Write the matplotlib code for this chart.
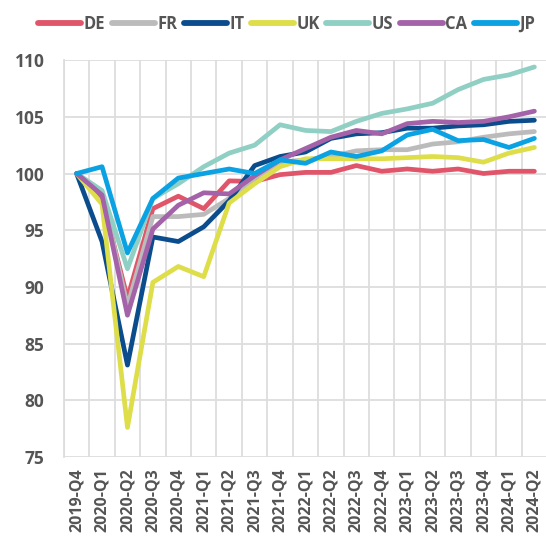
import matplotlib
matplotlib.use("Agg")
import matplotlib.pyplot as plt
from matplotlib.ticker import FixedLocator

quarters = ["2019-Q4", "2020-Q1", "2020-Q2", "2020-Q3", "2020-Q4", "2021-Q1", "2021-Q2",
            "2021-Q3", "2021-Q4", "2022-Q1", "2022-Q2", "2022-Q3", "2022-Q4", "2023-Q1",
            "2023-Q2", "2023-Q3", "2023-Q4", "2024-Q1", "2024-Q2"]

DE = [100, 97.8, 89.0, 96.9, 98.0, 96.9, 99.35, 99.3, 99.9, 100.1, 100.1, 100.7, 100.2, 100.4, 100.2, 100.4, 100.0, 100.2, 100.2]
FR = [100, 98.3, 88.3, 96.2, 96.2, 96.4, 97.8, 99.6, 101.0, 101.2, 101.5, 102.0, 102.1, 102.1, 102.6, 102.8, 103.2, 103.5, 103.7]
IT = [100, 94.0, 83.1, 94.4, 94.0, 95.3, 97.6, 100.7, 101.5, 101.9, 103.1, 103.5, 103.6, 104.0, 104.0, 104.2, 104.3, 104.6, 104.7]
UK = [100, 97.3, 77.6, 90.4, 91.8, 90.9, 97.4, 99.1, 100.6, 101.3, 101.3, 101.3, 101.3, 101.4, 101.5, 101.4, 101.0, 101.8, 102.3]
US = [100, 98.5, 91.6, 97.8, 99.1, 100.6, 101.8, 102.5, 104.3, 103.8, 103.7, 104.6, 105.3, 105.7, 106.2, 107.4, 108.3, 108.7, 109.4]
CA = [100, 98.1, 87.5, 95.1, 97.2, 98.3, 98.2, 99.8, 101.2, 102.2, 103.2, 103.8, 103.5, 104.4, 104.6, 104.5, 104.6, 105.0, 105.5]
JP = [100, 100.6, 93.0, 97.8, 99.6, 100.0, 100.4, 100.0, 101.2, 100.9, 101.9, 101.5, 102.0, 103.4, 103.9, 102.9, 103.0, 102.3, 103.1]

series = ["DE", "FR", "IT", "UK", "US", "CA", "JP"]
values = [DE, FR, IT, UK, US, CA, JP]
colors = ["#E05569", "#BBBBBB", "#0B4C8C", "#DEDE4A", "#8FCFC4", "#A462A9", "#0AA2E3"]

fig = plt.figure(figsize=(5.46, 5.42), dpi=100)
ax = fig.add_axes([0.117, 0.157, 0.885, 0.732])

x = list(range(len(quarters)))
for name, vals, c in zip(series, values, colors):
    ax.plot(x, vals, color=c, lw=3.4, solid_capstyle="round", solid_joinstyle="round", label=name)

ax.set_xlim(-0.5, len(quarters) - 0.5)
ax.set_ylim(75, 110)
ax.set_yticks([75, 80, 85, 90, 95, 100, 105, 110])
ax.set_xticks(x)
ax.set_xticklabels(quarters, rotation=90)
ax.xaxis.set_minor_locator(FixedLocator([i - 0.5 for i in range(len(quarters) + 1)]))
ax.grid(False)
ax.grid(which="minor", axis="x", color="#DDDDDD", lw=1.3)
ax.grid(which="major", axis="y", color="#DDDDDD", lw=1.3)
ax.set_axisbelow(True)
for s in ["top", "right", "bottom"]:
    ax.spines[s].set_visible(False)
ax.spines["left"].set_color("#DDDDDD")
ax.spines["left"].set_linewidth(1.3)
ax.tick_params(which="both", length=0)
ax.tick_params(axis="y", pad=14)
ax.tick_params(axis="x", pad=8)
for lab in ax.get_yticklabels():
    lab.set_fontfamily("Open Sans")
    lab.set_fontweight("bold")
    lab.set_fontsize(12.5)
    lab.set_color("#555555")
for lab in ax.get_xticklabels():
    lab.set_fontfamily("Open Sans")
    lab.set_fontweight("bold")
    lab.set_fontsize(11.5)
    lab.set_color("#555555")

leg = fig.legend(loc="upper center", bbox_to_anchor=(0.525, 1.0), ncol=7, frameon=False,
                 handlelength=2.6, handletextpad=0.15, columnspacing=0.4,
                 prop={"family": "Open Sans", "weight": "bold", "size": 11.9})
for t in leg.get_texts():
    t.set_color("#555555")
for h in leg.get_lines():
    h.set_linewidth(4.2)

fig.savefig("out.png", dpi=100)
